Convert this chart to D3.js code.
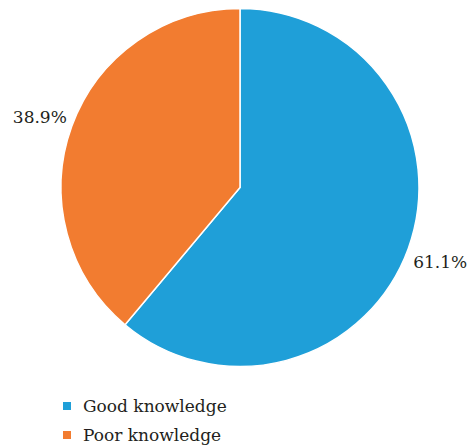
<!DOCTYPE html>
<html>
<head>
  <meta charset="utf-8">
  <script src="https://d3js.org/d3.v7.min.js"></script>
  <style>
    body { margin: 0; background: #fff; }
  </style>
</head>
<body>
<div id="pie"></div>
<script>
// values
const categories = ["Good knowledge", "Poor knowledge"];
const shares = [61.1, 38.9];
const colours = ["#1f9fd8", "#f27c30"];

const width = 469, height = 447;
const cx = 240, cy = 187.5, radius = 179;
const serif = "'DejaVu Serif', serif";

const svg = d3.select("#pie")
  .append("svg")
    .attr("width", width)
    .attr("height", height);

const g = svg.append("g")
    .attr("transform", "translate(" + cx + "," + cy + ")");

const pie = d3.pie().sort(null).value(function(d) { return d; });
const arcs = pie(shares);

const arc = d3.arc().innerRadius(0).outerRadius(radius);
const labelArc = d3.arc().innerRadius(213).outerRadius(213);

const colour = d3.scaleOrdinal().domain(categories).range(colours);

g.selectAll(".slice")
  .data(arcs)
  .enter().append("path")
    .attr("class", "slice")
    .attr("d", arc)
    .attr("fill", function(d, i) { return colour(categories[i]); })
    .attr("stroke", "#fff")
    .attr("stroke-width", 1.5);

g.selectAll(".lbl")
  .data(arcs)
  .enter().append("text")
    .attr("class", "lbl")
    .attr("transform", function(d) { return "translate(" + labelArc.centroid(d) + ")"; })
    .attr("text-anchor", "middle")
    .attr("dy", 8)
    .attr("font-family", serif)
    .attr("font-size", 17)
    .attr("fill", "#231f20")
    .text(function(d) { return d3.format(".1f")(d.value) + "%"; });

// legend
const legend = svg.append("g")
    .attr("transform", "translate(63,406)");

const rows = legend.selectAll(".row")
  .data(categories)
  .enter().append("g")
    .attr("class", "row")
    .attr("transform", function(d, i) { return "translate(0," + (i * 29) + ")"; });

rows.append("rect")
    .attr("x", 0)
    .attr("y", -4)
    .attr("width", 8)
    .attr("height", 8)
    .attr("fill", function(d) { return colour(d); });

rows.append("text")
    .attr("x", 20)
    .attr("dy", "0.35em")
    .attr("font-family", serif)
    .attr("font-size", 17)
    .attr("fill", "#231f20")
    .text(function(d) { return d; });
</script>
</body>
</html>
